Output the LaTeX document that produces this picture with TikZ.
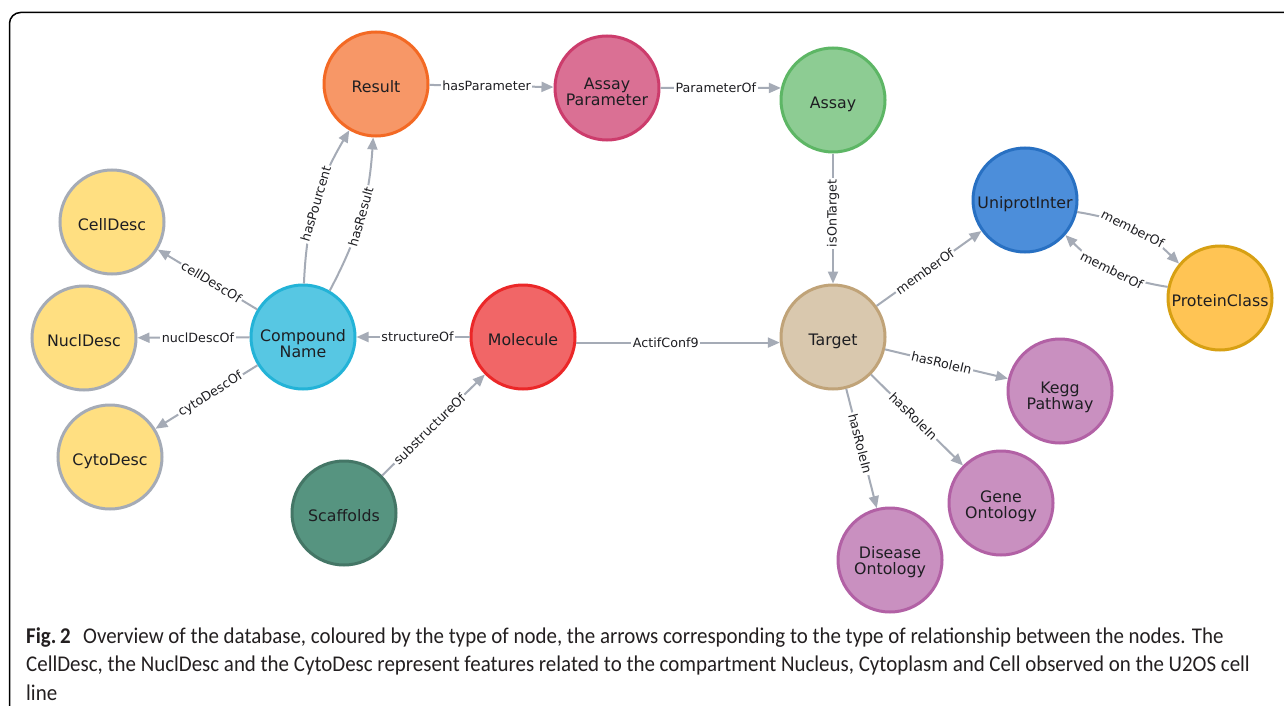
\documentclass[tikz,border=0pt]{standalone}
\usepackage{fontspec}
\usetikzlibrary{arrows.meta}
\newfontfamily\dejavu{DejaVu Sans}
\newfontfamily\capfont[FakeStretch=0.93]{Carlito}
\newcommand\mynodefnt{\dejavu\fontsize{15.8}{16}\selectfont}
\newcommand\myedgefnt{\dejavu\fontsize{12.7}{14}\selectfont}
\definecolor{edgec}{HTML}{A5ABB6}
\definecolor{txt}{HTML}{1E1E22}
\definecolor{resF}{HTML}{F79767}\definecolor{resD}{HTML}{F36924}
\definecolor{apF}{HTML}{DA7094}\definecolor{apD}{HTML}{CC3C6C}
\definecolor{asF}{HTML}{8DCC93}\definecolor{asD}{HTML}{5DB665}
\definecolor{uniF}{HTML}{4C8EDA}\definecolor{uniD}{HTML}{2870C2}
\definecolor{pcF}{HTML}{FFC454}\definecolor{pcD}{HTML}{D7A013}
\definecolor{yeF}{HTML}{FFDF81}\definecolor{yeD}{HTML}{A5ABB6}
\definecolor{cnF}{HTML}{57C7E3}\definecolor{cnD}{HTML}{23B3D7}
\definecolor{moF}{HTML}{F16667}\definecolor{moD}{HTML}{EB2728}
\definecolor{tgF}{HTML}{D9C8AE}\definecolor{tgD}{HTML}{C0A378}
\definecolor{puF}{HTML}{C990C0}\definecolor{puD}{HTML}{B261A5}
\definecolor{scF}{HTML}{569480}\definecolor{scD}{HTML}{447666}
\definecolor{captxt}{HTML}{231F20}
\tikzset{
  nd/.style={circle, minimum size=104pt, line width=3pt, inner sep=0pt, align=center,
    font=\mynodefnt, text=txt, text depth=0pt, text height=17.5pt},
  two/.style={text height=36pt},
  ed/.style={draw=edgec, line width=2pt, -{Triangle[length=12pt,width=10pt]}},
  el/.style={fill=white, font=\myedgefnt, text=txt, inner sep=1.5pt, pos=0.46},
  captext/.style={anchor=base west, inner sep=0pt, font=\capfont\fontsize{22.5}{28}\selectfont, text=captxt},
}
\begin{document}
\begin{tikzpicture}[x=1pt,y=1pt]
\useasboundingbox (0,0) rectangle (1284,-706);
\clip (0,0) rectangle (1284,-706);
\fill[white] (0,0) rectangle (1284,-706);
\draw[line width=1.5pt, rounded corners=11pt] (9.5,-720) |- (1300,-12.5);

% nodes
\node[nd, fill=resF, draw=resD] (res) at (376,-84) {Result};
\node[nd, two, fill=apF, draw=apD] (ap) at (607,-88) {Assay\\Parameter};
\node[nd, fill=asF, draw=asD] (assay) at (833,-100) {Assay};
\node[nd, fill=uniF, draw=uniD] (uni) at (1025,-200) {UniprotInter};
\node[nd, fill=pcF, draw=pcD] (pc) at (1220,-298) {ProteinClass};
\node[nd, fill=yeF, draw=yeD] (cell) at (112,-222) {CellDesc};
\node[nd, fill=yeF, draw=yeD] (nucl) at (84,-338) {NuclDesc};
\node[nd, fill=yeF, draw=yeD] (cyto) at (110,-457) {CytoDesc};
\node[nd, two, fill=cnF, draw=cnD, text height=40pt] (cn) at (303,-337) {Compound\\Name};
\node[nd, fill=moF, draw=moD] (mol) at (523,-337) {Molecule};
\node[nd, fill=tgF, draw=tgD] (tgt) at (833,-337) {Target};
\node[nd, two, fill=puF, draw=puD] (kegg) at (1060,-391) {Kegg\\Pathway};
\node[nd, two, fill=puF, draw=puD, text height=30pt] (gene) at (1001,-503) {Gene\\Ontology};
\node[nd, two, fill=puF, draw=puD, text height=29pt] (dis) at (890,-560) {Disease\\Ontology};
\node[nd, fill=scF, draw=scD] (scf) at (344,-513) {Scaffolds};

% edges
\draw[ed] (res) -- node[el] (l1) {hasParameter} (ap);
\draw[ed] (ap.east) -- node[el] (l2) {ParameterOf} (assay.167);
\draw[ed] (assay) -- node[el, rotate=90] (l3) {isOnTarget} (tgt);
\draw[ed] (tgt) -- node[el, sloped] (l4) {memberOf} (uni);
\draw[ed] (uni.-13) to[bend left=18] node[el, sloped, pos=0.5] (l5) {memberOf} (pc.140);
\draw[ed] (pc.168) to[bend left=18] node[el, sloped, pos=0.5] (l6) {memberOf} (uni.-41);
\draw[ed] (tgt) -- node[el, sloped] (l7) {hasRoleIn} (kegg);
\draw[ed] (tgt) -- node[el, sloped] (l8) {hasRoleIn} (gene);
\draw[ed] (tgt) -- node[el, sloped] (l9) {hasRoleIn} (dis);
\draw[ed] (mol.-6.4) -- node[el, pos=0.44] (l10) {ActifConf9} (tgt.186.4);
\draw[ed] (mol) -- node[el] (l11) {structureOf} (cn);
\draw[ed] (scf) -- node[el, sloped] (l12) {substructureOf} (mol);
\draw[ed] (cn) -- node[el, sloped] (l13) {cellDescOf} (cell);
\draw[ed] (cn) -- node[el] (l14) {nuclDescOf} (nucl);
\draw[ed] (cn) -- node[el, sloped] (l15) {cytoDescOf} (cyto);
\draw[ed] (cn.89) to[bend left=14] node[el, sloped, pos=0.5] (l16) {hasPourcent} (res.240);
\draw[ed] (cn.60) to[bend right=12] node[el, sloped, pos=0.5] (l17) {hasResult} (res.267);

% caption
\node[captext] (cap1) at (26,-643) {\textbf{Fig.\,2}\hspace{0.55em}Overview of the database, coloured by the type of node, the arrows corresponding to the type of relationship between the nodes. The};
\node[captext] (cap2) at (26,-671.5) {CellDesc, the NuclDesc and the CytoDesc represent features related to the compartment Nucleus, Cytoplasm and Cell observed on the U2OS cell};
\node[captext] (cap3) at (26,-700) {line};
\end{tikzpicture}
\end{document}
